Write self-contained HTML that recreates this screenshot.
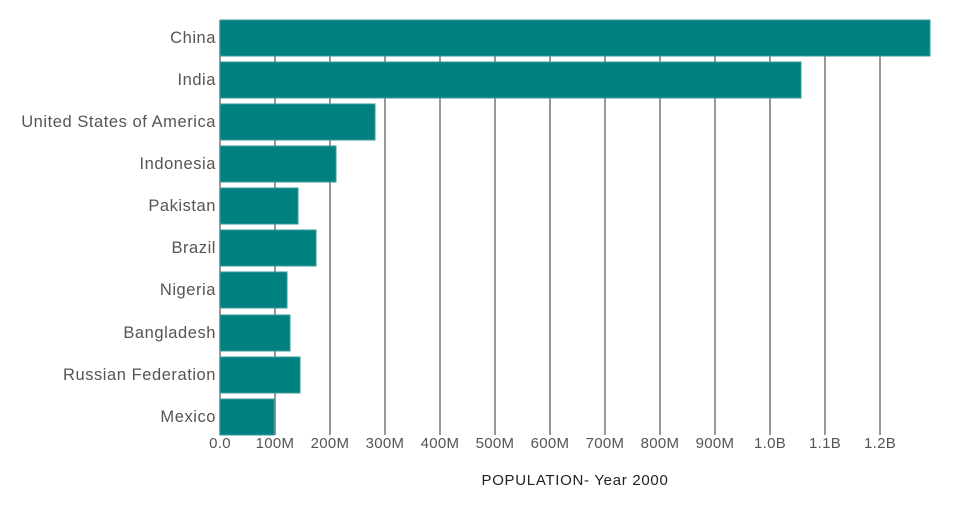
<!DOCTYPE html>
<html><head><meta charset="utf-8"><style>body{margin:0;background:#fff}</style></head><body>
<svg width="960" height="500" xmlns="http://www.w3.org/2000/svg" font-family="Liberation Sans, sans-serif">
<g stroke="#777" stroke-width="1.5">
<line x1="220" y1="20" x2="220" y2="435"/>
<line x1="275" y1="20" x2="275" y2="435"/><line x1="330" y1="20" x2="330" y2="435"/><line x1="385" y1="20" x2="385" y2="435"/><line x1="440" y1="20" x2="440" y2="435"/><line x1="495" y1="20" x2="495" y2="435"/><line x1="550" y1="20" x2="550" y2="435"/><line x1="605" y1="20" x2="605" y2="435"/><line x1="660" y1="20" x2="660" y2="435"/><line x1="715" y1="20" x2="715" y2="435"/><line x1="770" y1="20" x2="770" y2="435"/><line x1="825" y1="20" x2="825" y2="435"/><line x1="880" y1="20" x2="880" y2="435"/>
</g>
<g fill="#008080" stroke="#3a9a9a" stroke-width="1">
<rect x="220" y="20" width="710" height="36"/>
<rect x="220" y="62" width="581" height="36"/>
<rect x="220" y="104" width="155" height="36"/>
<rect x="220" y="146" width="116" height="36"/>
<rect x="220" y="188" width="78" height="36"/>
<rect x="220" y="230" width="96" height="36"/>
<rect x="220" y="272" width="67" height="36"/>
<rect x="220" y="315" width="70" height="36"/>
<rect x="220" y="357" width="80" height="36"/>
<rect x="220" y="399" width="54" height="36"/>
</g>
<g fill="#555" font-size="16.5" letter-spacing="0.55" text-anchor="end">
<text x="216" y="43">China</text>
<text x="216" y="85">India</text>
<text x="216" y="127">United States of America</text>
<text x="216" y="169">Indonesia</text>
<text x="216" y="211">Pakistan</text>
<text x="216" y="253">Brazil</text>
<text x="216" y="295">Nigeria</text>
<text x="216" y="338">Bangladesh</text>
<text x="216" y="380">Russian Federation</text>
<text x="216" y="422">Mexico</text>
</g>
<g fill="#555" font-size="15" letter-spacing="0.3" text-anchor="middle">
<text x="220" y="448">0.0</text><text x="275" y="448">100M</text><text x="330" y="448">200M</text><text x="385" y="448">300M</text><text x="440" y="448">400M</text><text x="495" y="448">500M</text><text x="550" y="448">600M</text><text x="605" y="448">700M</text><text x="660" y="448">800M</text><text x="715" y="448">900M</text><text x="770" y="448">1.0B</text><text x="825" y="448">1.1B</text><text x="880" y="448">1.2B</text>
</g>
<text x="575" y="485" fill="#222" font-size="15" letter-spacing="0.7" text-anchor="middle">POPULATION- Year 2000</text>
</svg>
</body></html>
